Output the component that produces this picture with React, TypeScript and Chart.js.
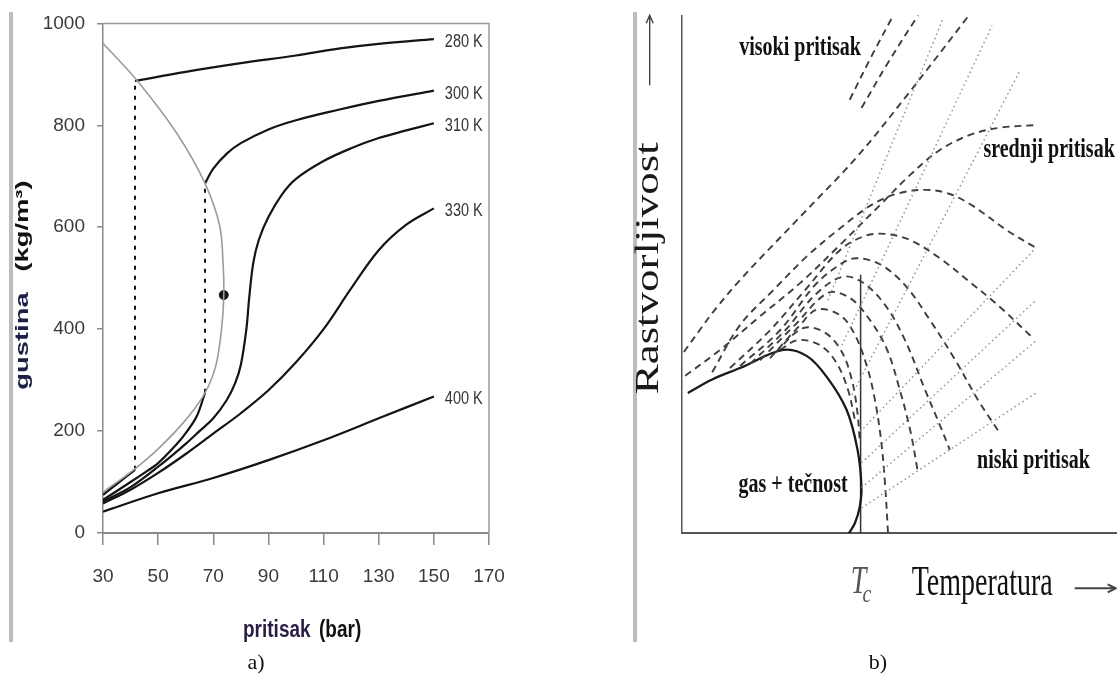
import React, { useEffect, useRef } from "react";
import { Chart, registerables } from "chart.js";
Chart.register(...registerables);

// ================= Panel a) : density vs pressure =================
const pressureTicks = [30, 50, 70, 90, 110, 130, 150, 170];
const densityTicks = [0, 200, 400, 600, 800, 1000];
const isothermLabels = ["280 K", "300 K", "310 K", "330 K", "400 K"];

const p280Vapor = [30, 35, 41.6];
const d280Vapor = [75, 96, 124];
const p280Liquid = [41.6, 60, 80, 100, 116, 130, 150];
const d280Liquid = [887, 905, 922, 937, 951, 960, 969];

const p300Vapor = [30, 40, 45, 50, 57, 60, 64, 67];
const d300Vapor = [65, 100, 118, 137, 176, 196, 229, 275];
const p300Liquid = [67, 70, 75, 80, 90, 100, 115, 130, 150];
const d300Liquid = [686, 715, 745, 765, 792, 810, 830, 848, 868];

const p310 = [30, 40, 50, 60, 65, 70, 75, 78, 80, 82, 83, 84.5, 86.5, 90, 95, 100, 110, 120, 130, 140, 150];
const d310 = [62, 90, 130, 175, 200, 225, 262, 295, 330, 400, 460, 530, 575, 620, 665, 695, 730, 755, 775, 790, 804];

const p330 = [30, 40, 50, 60, 70, 80, 90, 100, 110, 120, 130, 140, 150];
const d330 = [58, 85, 118, 155, 195, 235, 280, 335, 400, 480, 555, 605, 637];

const p400 = [30, 50, 70, 90, 110, 130, 150];
const d400 = [42, 78, 108, 143, 182, 225, 268];

const pCoexistence = [30, 41.6, 50, 60, 67, 71, 73, 73.8, 73.6, 72.4, 67, 56.8, 42.5, 30];
const dCoexistence = [80, 126, 165, 222, 275, 330, 400, 467, 523, 601, 686, 784, 887, 961];

const pTie280 = [41.6, 41.6];
const dTie280 = [124, 887];
const pTie300 = [67, 67];
const dTie300 = [275, 686];

const pCritical = [73.8];
const dCritical = [467];

const yTitleMain = "gustina";
const yTitleUnit = "(kg/m³)";
const xTitleMain = "pritisak";
const xTitleUnit = "(bar)";

// ================= Panel b) : solubility vs temperature (schematic) =================
const tSolid = [1.4, 7.0, 13.4, 23.3, 28.8, 33.4, 37.9, 40.4, 41.3, 40.9, 39.8, 38.4];
const sSolid = [27.1, 29.7, 31.9, 35.4, 34.2, 30.1, 23.8, 16.1, 8.9, 5.1, 2.0, 0];

const tIsobarA = [38.6, 43.3, 48.6];
const sIsobarA = [83.7, 91.6, 100];
const tIsobarB = [41.3, 47.5, 54.3];
const sIsobarB = [82.1, 91.0, 100];
const tIsobarC = [0.5, 4.2, 7.2, 13.4, 27.2, 40.3, 51.8, 66.0];
const sIsobarC = [35.0, 39.3, 42.7, 48.9, 61.1, 72.7, 84.6, 100];
const tIsobarD = [0.8, 8.8, 18.0, 27.2, 36.4, 45.6, 52.5, 59.3, 66.2, 73.1, 81.4];
const sIsobarD = [30.4, 35.4, 41.9, 48.3, 55.7, 63.4, 69.2, 74.0, 76.9, 78.3, 78.8];
const tIsobarE = [7.0, 13.4, 21.0, 28.8, 36.4, 44.0, 50.1, 56.3, 61.6, 66.9, 74.7, 81.4];
const sIsobarE = [31.1, 40.2, 46.9, 53.5, 58.9, 63.6, 65.7, 66.3, 65.5, 63.2, 58.5, 55.1];
const tIsobarF = [11.1, 20.3, 28.3, 36.4, 42.1, 46.7, 52.5, 59.3, 66.2, 73.1, 80.9];
const sIsobarF = [31.9, 39.2, 46.9, 54.7, 57.4, 57.8, 56.6, 53.1, 48.5, 43.7, 37.5];
const tIsobarG = [13.4, 22.6, 30.6, 36.4, 40.0, 45.6, 51.3, 57.0, 62.8, 68.1, 73.1];
const sIsobarG = [32.3, 39.2, 47.9, 51.9, 53.1, 51.9, 47.9, 41.2, 33.5, 25.7, 19.3];
const tIsobarH = [15.7, 23.8, 30.6, 36.8, 41.4, 46.7, 51.3, 55.9, 59.3, 61.6];
const sIsobarH = [32.7, 39.2, 46.0, 49.5, 48.5, 44.1, 37.3, 27.7, 20.9, 16.1];
const tIsobarI = [18.0, 26.0, 33.6, 38.7, 43.3, 47.2, 50.1, 52.5, 54.3];
const sIsobarI = [33.4, 40.2, 46.4, 45.4, 41.1, 35.4, 27.7, 19.9, 11.6];
const tIsobarJ = [20.3, 27.2, 31.1, 36.4, 39.8, 42.6, 44.4, 45.8, 46.7, 47.4];
const sIsobarJ = [33.8, 40.2, 43.2, 42.1, 38.3, 32.1, 25.7, 18.0, 9.7, 0];
const tIsobarK = [21.5, 27.9, 33.0, 36.8, 39.1, 40.3, 40.9];
const sIsobarK = [34.9, 39.6, 38.7, 35.0, 29.6, 23.8, 18.0];
const tIsobarL = [22.6, 26.7, 31.8, 35.5, 38.2, 39.8];
const sIsobarL = [35.4, 37.3, 36.3, 33.0, 27.7, 21.9];

const tDotted1 = [41.3, 81.6];
const sDotted1 = [4.9, 27.2];
const tDotted2 = [41.3, 81.6];
const sDotted2 = [8.8, 37.3];
const tDotted3 = [41.3, 81.4];
const sDotted3 = [13.6, 45.0];
const tDotted4 = [41.0, 80.9];
const sDotted4 = [19.6, 54.7];
const tDotted5 = [39.1, 77.7];
const sDotted5 = [26.7, 89.3];
const tDotted6 = [36.8, 71.3];
const sDotted6 = [36.3, 98.0];
const tDotted7 = [33.6, 60.0];
const sDotted7 = [45.0, 99.3];

const tCritical = [41.1, 41.1];
const sCriticalLine = [0, 49.9];

const regionLabels = ["visoki pritisak", "srednji pritisak", "niski pritisak", "gas + tečnost"];
const regionLabelT = [27.2, 84.4, 80.8, 25.6];
const regionLabelS = [93.7, 74.0, 14.1, 9.3];

const yTitleB = "Rastvorljivost";
const xTitleB = "Temperatura";
const tcLabel = "T";
const tcSub = "c";

// ================= helpers =================
const FONT_SANS = "'Liberation Sans', Arial, sans-serif";
const FONT_SERIF = "'Liberation Serif', 'Times New Roman', serif";

const pts = (xs: number[], ys: number[]) => xs.map((x, i) => ({ x, y: ys[i] }));

function drawText(
  ctx: CanvasRenderingContext2D,
  text: string,
  x: number,
  y: number,
  o: { font: string; color: string; align?: CanvasTextAlign; baseline?: CanvasTextBaseline; sx?: number; sy?: number; rot?: number }
) {
  ctx.save();
  ctx.translate(x, y);
  if (o.rot) ctx.rotate(o.rot);
  ctx.scale(o.sx ?? 1, o.sy ?? 1);
  ctx.font = o.font;
  ctx.fillStyle = o.color;
  ctx.textAlign = o.align ?? "center";
  ctx.textBaseline = o.baseline ?? "middle";
  ctx.fillText(text, 0, 0);
  ctx.restore();
}

const BLACK = "#141414";

function curve(xs: number[], ys: number[], extra: any = {}) {
  return {
    data: pts(xs, ys),
    showLine: true,
    pointRadius: 0,
    borderColor: BLACK,
    borderWidth: 2.2,
    tension: 0.35,
    ...extra,
  };
}

const isothermEnds = [
  [p280Liquid, d280Liquid],
  [p300Liquid, d300Liquid],
  [p310, d310],
  [p330, d330],
  [p400, d400],
];

const leftDecor = {
  id: "leftDecor",
  afterDraw(chart: any) {
    const { ctx, chartArea: a, scales } = chart;
    const x = scales.x;
    const y = scales.y;
    ctx.save();
    ctx.strokeStyle = "#9a9a9a";
    ctx.lineWidth = 1.5;
    ctx.beginPath();
    ctx.moveTo(a.left, a.top);
    ctx.lineTo(a.right, a.top);
    ctx.lineTo(a.right, a.bottom);
    ctx.stroke();
    ctx.restore();
    isothermLabels.forEach((label, i) => {
      const [ps, ds] = isothermEnds[i];
      const px = x.getPixelForValue(ps[ps.length - 1]) + 11;
      const py = y.getPixelForValue(ds[ds.length - 1]) + 3;
      drawText(ctx, label, px, py, { font: `14.5px ${FONT_SANS}`, color: "#333", align: "left", sy: 1.25 });
    });
    drawText(ctx, yTitleMain, 23, 341, { font: `bold 18px ${FONT_SANS}`, color: "#1c2045", rot: -Math.PI / 2, sx: 1.52 });
    drawText(ctx, yTitleUnit, 23, 226, { font: `bold 18px ${FONT_SANS}`, color: "#111", rot: -Math.PI / 2, sx: 1.52 });
    drawText(ctx, xTitleMain, 243, 630, { font: `bold 19px ${FONT_SANS}`, color: "#2a1d45", align: "left", sy: 1.3 });
    drawText(ctx, xTitleUnit, 319, 630, { font: `bold 19px ${FONT_SANS}`, color: "#111", align: "left", sy: 1.3 });
  },
};

function leftConfig(): any {
  return {
    type: "scatter",
    data: {
      datasets: [
        curve(pCoexistence, dCoexistence, { borderColor: "#9c9c9c", borderWidth: 1.6, tension: 0.3 }),
        curve(p280Vapor, d280Vapor),
        curve(p280Liquid, d280Liquid),
        curve(p300Vapor, d300Vapor),
        curve(p300Liquid, d300Liquid),
        curve(p310, d310),
        curve(p330, d330),
        curve(p400, d400),
        curve(pTie280, dTie280, { borderDash: [4, 6], borderWidth: 2, tension: 0 }),
        curve(pTie300, dTie300, { borderDash: [4, 6], borderWidth: 2, tension: 0 }),
        { data: pts(pCritical, dCritical), showLine: false, pointRadius: 4.5, backgroundColor: BLACK, borderColor: BLACK },
      ],
    },
    options: {
      animation: false,
      responsive: false,
      events: [],
      layout: { padding: { top: 23, right: 71, left: 0, bottom: 0 } },
      plugins: { legend: { display: false }, tooltip: { enabled: false } },
      scales: {
        x: {
          type: "linear",
          min: pressureTicks[0],
          max: pressureTicks[pressureTicks.length - 1],
          afterBuildTicks: (s: any) => {
            s.ticks = pressureTicks.map((v) => ({ value: v }));
          },
          afterFit: (s: any) => {
            s.height = 141;
          },
          ticks: {
            font: { family: FONT_SANS, size: 19 },
            color: "#3a3a3a",
            padding: 20,
            maxRotation: 0,
            callback: (v: any) => String(v),
          },
          grid: { drawOnChartArea: false, drawTicks: true, tickLength: 12, color: "#8a8a8a", lineWidth: 1.5 },
          border: { color: "#8a8a8a", width: 2 },
        },
        y: {
          type: "linear",
          min: densityTicks[0],
          max: densityTicks[densityTicks.length - 1],
          afterBuildTicks: (s: any) => {
            s.ticks = densityTicks.map((v) => ({ value: v }));
          },
          afterFit: (s: any) => {
            s.width = 103;
          },
          ticks: {
            font: { family: FONT_SANS, size: 19 },
            color: "#3a3a3a",
            padding: 12,
            callback: (v: any) => String(v),
          },
          grid: { drawOnChartArea: false, drawTicks: true, tickLength: 6, color: "#8a8a8a", lineWidth: 1.5 },
          border: { color: "#8a8a8a", width: 1.5 },
        },
      },
    },
    plugins: [leftDecor],
  };
}

const rightDecor = {
  id: "rightDecor",
  afterDraw(chart: any) {
    const { ctx, chartArea: a, scales } = chart;
    const x = scales.x;
    const y = scales.y;
    regionLabels.forEach((label, i) => {
      drawText(ctx, label, x.getPixelForValue(regionLabelT[i]), y.getPixelForValue(regionLabelS[i]), {
        font: `bold 20px ${FONT_SERIF}`,
        color: "#111",
        sy: 1.4,
      });
    });
    const ax = a.left - 32;
    drawText(ctx, yTitleB, ax, a.top + 253, { font: `33px ${FONT_SERIF}`, color: "#1a1a1a", rot: -Math.PI / 2, sx: 1.36 });
    ctx.save();
    ctx.strokeStyle = "#444";
    ctx.lineWidth = 1.4;
    ctx.beginPath();
    ctx.moveTo(ax, a.top + 70);
    ctx.lineTo(ax, a.top);
    ctx.moveTo(ax - 3.5, a.top + 8);
    ctx.lineTo(ax, a.top);
    ctx.lineTo(ax + 3.5, a.top + 8);
    ctx.stroke();
    const ay = a.bottom + 55;
    ctx.lineWidth = 2;
    ctx.beginPath();
    ctx.moveTo(a.left + 393, ay);
    ctx.lineTo(a.left + 433, ay);
    ctx.moveTo(a.left + 426, ay - 4);
    ctx.lineTo(a.left + 434, ay);
    ctx.lineTo(a.left + 426, ay + 4);
    ctx.stroke();
    ctx.restore();
    drawText(ctx, xTitleB, a.left + 230, a.bottom + 62, { font: `28px ${FONT_SERIF}`, color: "#111", align: "left", baseline: "alphabetic", sy: 1.5 });
    const tcx = x.getPixelForValue(tCritical[0]);
    drawText(ctx, tcLabel, tcx - 2, a.bottom + 60, { font: `italic 28px ${FONT_SERIF}`, color: "#555", baseline: "alphabetic", sy: 1.4 });
    drawText(ctx, tcSub, tcx + 2, a.bottom + 69, { font: `italic 20px ${FONT_SERIF}`, color: "#555", align: "left", baseline: "alphabetic", sy: 1.3 });
  },
};

function rightConfig(): any {
  const dash = { borderColor: "#3e3e3e", borderWidth: 1.9, borderDash: [7, 5] };
  const dot = { borderColor: "#8c8c8c", borderWidth: 1.4, borderDash: [1.5, 3.2], tension: 0 };
  return {
    type: "scatter",
    data: {
      datasets: [
        curve(tDotted1, sDotted1, dot),
        curve(tDotted2, sDotted2, dot),
        curve(tDotted3, sDotted3, dot),
        curve(tDotted4, sDotted4, dot),
        curve(tDotted5, sDotted5, dot),
        curve(tDotted6, sDotted6, dot),
        curve(tDotted7, sDotted7, dot),
        curve(tIsobarA, sIsobarA, dash),
        curve(tIsobarB, sIsobarB, dash),
        curve(tIsobarC, sIsobarC, dash),
        curve(tIsobarD, sIsobarD, dash),
        curve(tIsobarE, sIsobarE, dash),
        curve(tIsobarF, sIsobarF, dash),
        curve(tIsobarG, sIsobarG, dash),
        curve(tIsobarH, sIsobarH, dash),
        curve(tIsobarI, sIsobarI, dash),
        curve(tIsobarJ, sIsobarJ, dash),
        curve(tIsobarK, sIsobarK, dash),
        curve(tIsobarL, sIsobarL, dash),
        curve(tSolid, sSolid, { borderColor: "#1a1a1a", borderWidth: 2.3 }),
        curve(tCritical, sCriticalLine, { borderColor: "#333", borderWidth: 1.5, tension: 0 }),
      ],
    },
    options: {
      animation: false,
      responsive: false,
      events: [],
      layout: { padding: { top: 15.3, right: 0, left: 121.7, bottom: 140.7 } },
      plugins: { legend: { display: false }, tooltip: { enabled: false } },
      scales: {
        x: {
          type: "linear",
          min: 0,
          max: 100,
          ticks: { display: false },
          grid: { display: false },
          border: { color: "#555", width: 2 },
          afterFit: (s: any) => {
            s.height = 0;
          },
        },
        y: {
          type: "linear",
          min: 0,
          max: 100,
          ticks: { display: false },
          grid: { display: false },
          border: { color: "#555", width: 1.5 },
          afterFit: (s: any) => {
            s.width = 0;
          },
        },
      },
    },
    plugins: [rightDecor],
  };
}

export default function App() {
  const leftRef = useRef<HTMLCanvasElement>(null);
  const rightRef = useRef<HTMLCanvasElement>(null);

  useEffect(() => {
    let left: Chart | null = null;
    let right: Chart | null = null;
    let cancelled = false;
    const fonts = [`18px ${FONT_SANS}`, `bold 18px ${FONT_SANS}`, `bold 20px ${FONT_SERIF}`, `28px ${FONT_SERIF}`, `italic 28px ${FONT_SERIF}`];
    const ready = (document as any).fonts
      ? Promise.all(fonts.map((f) => (document as any).fonts.load(f))).catch(() => null)
      : Promise.resolve(null);
    ready.then(() => {
      if (cancelled || !leftRef.current || !rightRef.current) return;
      left = new Chart(leftRef.current, leftConfig());
      right = new Chart(rightRef.current, rightConfig());
    });
    return () => {
      cancelled = true;
      if (left) left.destroy();
      if (right) right.destroy();
    };
  }, []);

  const bar = { position: "absolute" as const, top: 12, width: 3.5, height: 630, background: "#bdbdbd" };
  const caption = {
    position: "absolute" as const,
    top: 651,
    width: 40,
    textAlign: "center" as const,
    fontFamily: FONT_SERIF,
    fontSize: 22,
    lineHeight: "22px",
    color: "#111",
  };

  return (
    <div style={{ position: "fixed", left: 0, top: 0, width: 1117, height: 674, background: "#fff", overflow: "hidden" }}>
      <div style={{ ...bar, left: 9 }} />
      <div style={{ ...bar, left: 633 }} />
      <canvas ref={leftRef} width={560} height={674} style={{ position: "absolute", left: 0, top: 0, width: 560, height: 674 }} />
      <canvas ref={rightRef} width={557} height={674} style={{ position: "absolute", left: 560, top: 0, width: 557, height: 674 }} />
      <div style={{ ...caption, left: 236 }}>a)</div>
      <div style={{ ...caption, left: 858 }}>b)</div>
    </div>
  );
}
